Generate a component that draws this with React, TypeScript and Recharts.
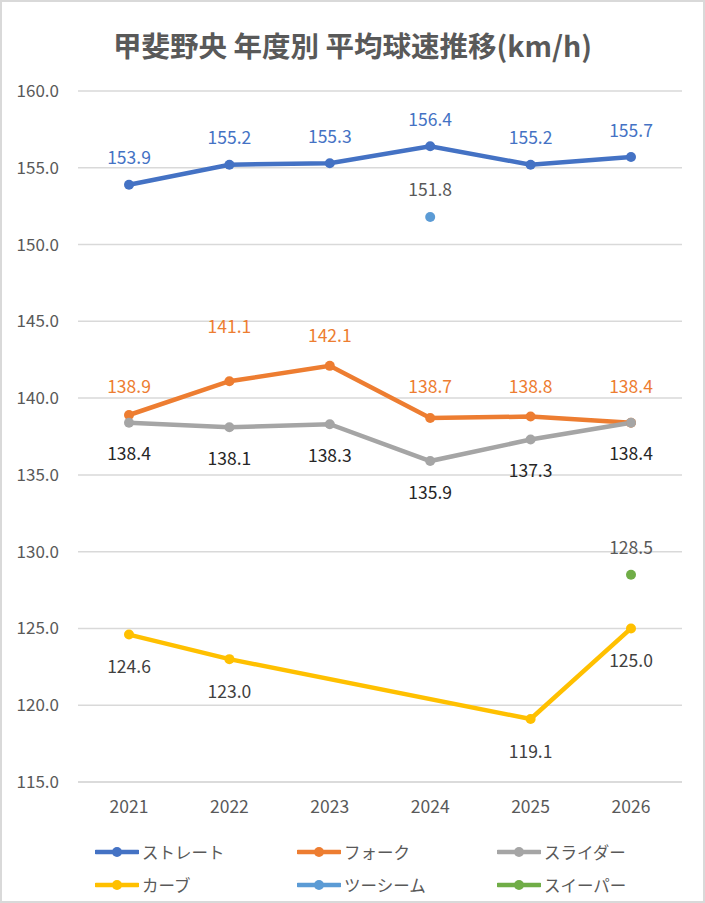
import { LineChart, Line, XAxis, YAxis, CartesianGrid, LabelList } from "recharts";

const years = ["2021", "2022", "2023", "2024", "2025", "2026"];
const straight = [153.9, 155.2, 155.3, 156.4, 155.2, 155.7];
const fork = [138.9, 141.1, 142.1, 138.7, 138.8, 138.4];
const slider = [138.4, 138.1, 138.3, 135.9, 137.3, 138.4];
const curve = [124.6, 123.0, null, null, 119.1, 125.0];
const twoSeam = [null, null, null, 151.8, null, null];
const sweeper = [null, null, null, null, null, 128.5];
const yTicks = [115, 120, 125, 130, 135, 140, 145, 150, 155, 160];

const data = years.map((year, i) => ({
  year,
  straight: straight[i],
  fork: fork[i],
  slider: slider[i],
  curve: curve[i],
  twoSeam: twoSeam[i],
  sweeper: sweeper[i],
}));

const FONT = '"Noto Sans CJK JP", "Open Sans", sans-serif';

// label placement relative to the point (Excel labels, some moved by hand)
const forkDy = [-30, -56, -31, -33, -31, -37];

const makeLabel = (color: string, dy: number | number[], weight = 400) => (props: any) => {
  const { x, y, value, index } = props;
  if (value == null || y == null) return null;
  const off = Array.isArray(dy) ? dy[index] : dy;
  return (
    <text
      x={x}
      y={y + off}
      textAnchor="middle"
      dominantBaseline="central"
      fill={color}
      fontSize={17.5}
      fontWeight={weight}
      fontFamily={FONT}
    >
      {Number(value).toFixed(1)}
    </text>
  );
};

const series = [
  { key: "straight", name: "ストレート", color: "#4472C4", label: makeLabel("#4472C4", -28) },
  { key: "fork", name: "フォーク", color: "#ED7D31", label: makeLabel("#ED7D31", forkDy) },
  { key: "slider", name: "スライダー", color: "#A5A5A5", label: makeLabel("#262626", 30) },
  { key: "curve", name: "カーブ", color: "#FFC000", label: makeLabel("#404040", 31) },
  { key: "twoSeam", name: "ツーシーム", color: "#5B9BD5", label: makeLabel("#595959", -28) },
  { key: "sweeper", name: "スイーパー", color: "#70AD47", label: makeLabel("#595959", -28) },
];

const LegendBox = () => (
  <div
    style={{
      position: "absolute",
      left: 93,
      top: 838,
      display: "grid",
      gridTemplateColumns: "202px 200px 160px",
      rowGap: 10,
      fontFamily: FONT,
      fontSize: 16.5,
      color: "#595959",
    }}
  >
    {series.map((s) => (
      <div key={s.key} style={{ display: "flex", alignItems: "center", height: 23 }}>
        <svg width={44} height={12} style={{ marginRight: 3 }}>
          <line x1={1} y1={6} x2={43} y2={6} stroke={s.color} strokeWidth={4.5} strokeLinecap="round" />
          <circle cx={22} cy={6} r={5} fill={s.color} />
        </svg>
        <span>{s.name}</span>
      </div>
    ))}
  </div>
);

export default function App() {
  return (
    <div
      style={{
        position: "absolute",
        top: 0,
        left: 0,
        width: 705,
        height: 903,
        boxSizing: "border-box",
        border: "2px solid #d9d9d9",
        background: "#fff",
        overflow: "hidden",
      }}
    >
      <div
        style={{
          position: "absolute",
          top: 22,
          left: 0,
          width: 701,
          textAlign: "center",
          fontFamily: FONT,
          fontSize: 28.5,
          fontWeight: 700,
          color: "#595959",
        }}
      >
        甲斐野央 年度別 平均球速推移(km/h)
      </div>
      <LineChart
        width={701}
        height={899}
        data={data}
        margin={{ top: 89, right: 21, bottom: 89, left: 0 }}
        style={{ position: "absolute", top: 0, left: 0 }}
      >
        <CartesianGrid vertical={false} stroke="#d9d9d9" strokeWidth={1.5} />
        <XAxis
          dataKey="year"
          height={30}
          padding={{ left: 51, right: 51 }}
          axisLine={{ stroke: "#d9d9d9", strokeWidth: 1.5 }}
          tickLine={false}
          tickSize={0}
          tickMargin={19}
          tick={{ fill: "#595959", fontSize: 17.5, fontFamily: FONT }}
        />
        <YAxis
          width={76}
          domain={[115, 160]}
          ticks={yTicks}
          interval={0}
          axisLine={false}
          tickLine={false}
          tickSize={0}
          tickMargin={19}
          tickFormatter={(v: number) => v.toFixed(1)}
          tick={{ fill: "#595959", fontSize: 17, fontFamily: FONT }}
        />
        {series.map((s) => (
          <Line
            key={s.key}
            dataKey={s.key}
            name={s.name}
            stroke={s.color}
            strokeWidth={4.5}
            connectNulls
            dot={{ r: 5, fill: s.color, stroke: s.color, strokeWidth: 0 }}
            activeDot={false}
            isAnimationActive={false}
          >
            <LabelList dataKey={s.key} content={s.label} />
          </Line>
        ))}
      </LineChart>
      <LegendBox />
    </div>
  );
}
